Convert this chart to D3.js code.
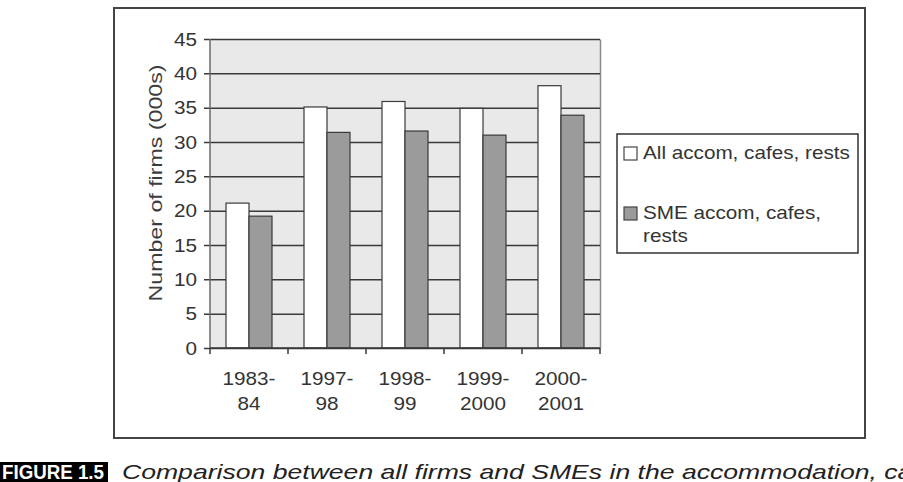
<!DOCTYPE html>
<html>
<head>
<meta charset="utf-8">
<script src="https://cdn.jsdelivr.net/npm/d3@7"></script>
<style>
	body { margin: 0; background: #fff; }
	svg { display: block; }
	text { font-family: "Liberation Sans", Arial, sans-serif; fill: #333; }
</style>
</head>
<body>
<div id="chart"></div>
<script>
// data (thousands of firms)
const categories = ['1983-84', '1997-98', '1998-99', '1999-2000', '2000-2001'];
const tickLines = [['1983-', '84'], ['1997-', '98'], ['1998-', '99'], ['1999-', '2000'], ['2000-', '2001']];
const allFirms = [21.1, 35.1, 35.9, 34.9, 38.2];
const smeFirms = [19.2, 31.4, 31.6, 31.0, 33.9];
const seriesNames = ['All accom, cafes, rests', 'SME accom, cafes, rests'];
const yTicks = [0, 5, 10, 15, 20, 25, 30, 35, 40, 45];

const width = 903;
const height = 482;
const stretch = 1.15; // the scanned text is a bit wide

const plot = { left: 210, right: 600, top: 39, bottom: 348 };

const svg = d3.select('#chart')
	.append('svg')
	.attr('width', width)
	.attr('height', height);

// outer frame
svg.append('rect')
	.attr('x', 114)
	.attr('y', 8)
	.attr('width', 751)
	.attr('height', 430)
	.attr('fill', '#fff')
	.attr('stroke', '#444')
	.attr('stroke-width', 2);

const y = d3.scaleLinear()
	.domain([0, 45])
	.range([plot.bottom, plot.top]);

const x0 = d3.scaleBand()
	.domain(categories)
	.range([plot.left, plot.right])
	.padding(0);

const x1 = d3.scaleBand()
	.domain(seriesNames)
	.range([16, x0.bandwidth() - 16])
	.padding(0);

// plot background
svg.append('rect')
	.attr('x', plot.left)
	.attr('y', plot.top)
	.attr('width', plot.right - plot.left)
	.attr('height', plot.bottom - plot.top)
	.attr('fill', '#e9e9e9');

// y axis drawn from the right edge so the ticks become grid lines
const yAxis = svg.append('g')
	.attr('transform', `translate(${plot.right},0)`)
	.call(d3.axisLeft(y)
		.tickValues(yTicks)
		.tickSizeInner(plot.right - plot.left + 6)
		.tickSizeOuter(0)
		.tickPadding(7));

yAxis.select('.domain')
	.attr('stroke', '#8a8a8a')
	.attr('stroke-width', 1.5);

yAxis.selectAll('.tick line')
	.attr('stroke', '#3a3a3a')
	.attr('stroke-width', 1.5);

yAxis.selectAll('.tick text')
	.attr('x', null)
	.attr('dy', '0.35em')
	.attr('transform', `translate(${-(plot.right - plot.left + 13)},0) scale(${stretch},1)`)
	.style('font-size', '18px')
	.style('fill', '#333');

// left axis line
svg.append('line')
	.attr('x1', plot.left)
	.attr('x2', plot.left)
	.attr('y1', plot.top)
	.attr('y2', plot.bottom)
	.attr('stroke', '#6a6a6a')
	.attr('stroke-width', 1.5);

// bars
const groups = svg.append('g')
	.selectAll('g')
	.data(categories)
	.join('g')
	.attr('transform', (d) => `translate(${x0(d)},0)`);

groups.selectAll('rect')
	.data((d, i) => [
		{ key: seriesNames[0], value: allFirms[i] },
		{ key: seriesNames[1], value: smeFirms[i] }
	])
	.join('rect')
	.attr('x', (d) => x1(d.key))
	.attr('y', (d) => y(d.value))
	.attr('width', x1.bandwidth())
	.attr('height', (d) => y(0) - y(d.value))
	.attr('fill', (d) => d.key === seriesNames[0] ? '#ffffff' : '#9b9b9b')
	.attr('stroke', '#3a3a3a')
	.attr('stroke-width', 1.2);

// x axis: ticks sit on the category boundaries
const xAxis = svg.append('g');

xAxis.append('line')
	.attr('x1', plot.left)
	.attr('x2', plot.right)
	.attr('y1', plot.bottom)
	.attr('y2', plot.bottom)
	.attr('stroke', '#3a3a3a')
	.attr('stroke-width', 1.5);

const boundaries = categories.map((d) => x0(d)).concat([plot.right]);

xAxis.selectAll('line.tick')
	.data(boundaries)
	.join('line')
	.attr('class', 'tick')
	.attr('x1', (d) => d)
	.attr('x2', (d) => d)
	.attr('y1', plot.bottom)
	.attr('y2', plot.bottom + 6)
	.attr('stroke', '#3a3a3a')
	.attr('stroke-width', 1.5);

const xLabels = xAxis.selectAll('g.label')
	.data(categories)
	.join('g')
	.attr('class', 'label')
	.attr('transform', (d) => `translate(${x0(d) + x0.bandwidth() / 2},0)`);

xLabels.each(function (d, i) {
	tickLines[i].forEach((line, j) => {
		d3.select(this).append('text')
			.attr('transform', `translate(0,${385 + j * 25}) scale(${stretch},1)`)
			.attr('text-anchor', 'middle')
			.style('font-size', '18px')
			.text(line);
	});
});

// y axis title
svg.append('text')
	.attr('transform', 'translate(162,183) rotate(-90) scale(1.22,1)')
	.attr('text-anchor', 'middle')
	.style('font-size', '19px')
	.style('fill', '#3c3c3c')
	.text('Number of firms (000s)');

// legend
const legend = svg.append('g');

legend.append('rect')
	.attr('x', 617)
	.attr('y', 134)
	.attr('width', 241)
	.attr('height', 119)
	.attr('fill', '#fff')
	.attr('stroke', '#333')
	.attr('stroke-width', 1.5);

const legendRows = [
	{ key: seriesNames[0], fill: '#ffffff', top: 147, lines: ['All accom, cafes, rests'] },
	{ key: seriesNames[1], fill: '#9b9b9b', top: 207, lines: ['SME accom, cafes,', 'rests'] }
];

legendRows.forEach((row) => {
	legend.append('rect')
		.attr('x', 624)
		.attr('y', row.top)
		.attr('width', 13)
		.attr('height', 13)
		.attr('fill', row.fill)
		.attr('stroke', '#444')
		.attr('stroke-width', 1.2);

	row.lines.forEach((line, j) => {
		legend.append('text')
			.attr('transform', `translate(643,${row.top + 12 + j * 23}) scale(${stretch},1)`)
			.style('font-size', '18px')
			.text(line);
	});
});

// figure caption
svg.append('rect')
	.attr('x', 0)
	.attr('y', 462)
	.attr('width', 108)
	.attr('height', 20)
	.attr('fill', '#000');

svg.append('text')
	.attr('x', 2)
	.attr('y', 479)
	.attr('textLength', 102)
	.attr('lengthAdjust', 'spacingAndGlyphs')
	.style('font-size', '21px')
	.style('font-weight', 'bold')
	.style('fill', '#fff')
	.text('FIGURE 1.5');

svg.append('text')
	.attr('transform', 'translate(122,479) scale(1.33,1)')
	.style('font-size', '20px')
	.style('font-style', 'italic')
	.style('fill', '#222')
	.text('Comparison between all firms and SMEs in the accommodation, cafes and restaurants sector');
</script>
</body>
</html>
